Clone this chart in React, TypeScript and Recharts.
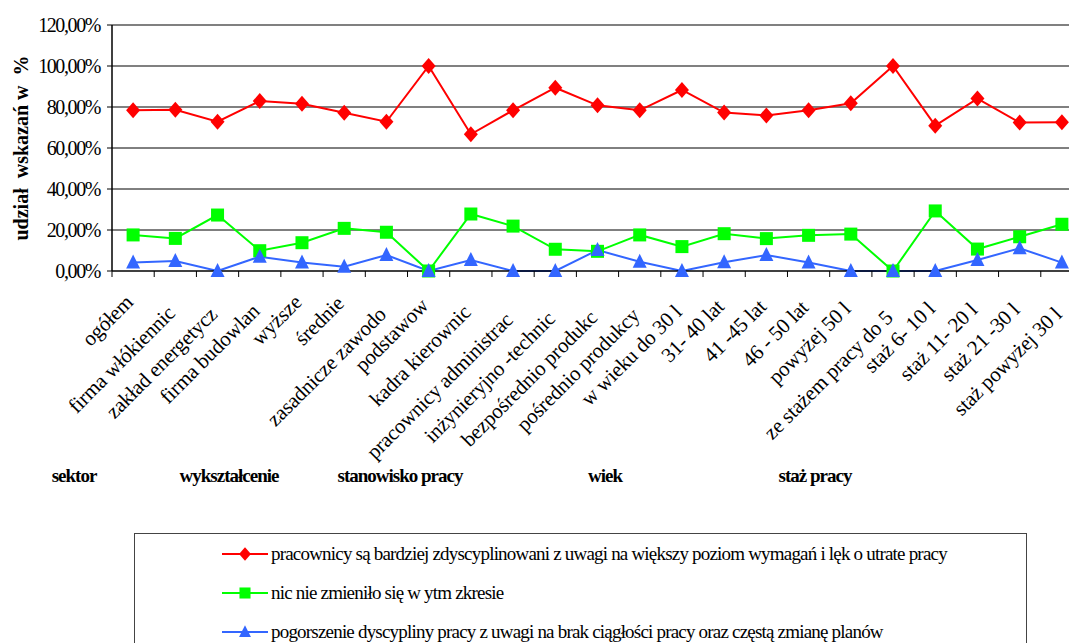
import React from 'react';
import { LineChart, Line, XAxis, YAxis, ReferenceLine, Legend } from 'recharts';

const categories = [
  'ogółem',
  'firma włókiennic',
  'zakład energetycz',
  'firma budowlan',
  'wyższe',
  'średnie',
  'zasadnicze zawodo',
  'podstawow',
  'kadra kierownic',
  'pracownicy administrac',
  'inżynieryjno -technic',
  'bezpośrednio produkc',
  'pośrednio produkcy',
  'w wieku do 30 l',
  '31- 40 lat',
  '41 -45 lat',
  '46 - 50 lat',
  'powyżej 50 l',
  'ze stażem pracy do 5',
  'staż 6- 10 l',
  'staż 11- 20 l',
  'staż 21 -30 l',
  'staż powyżej 30 l',
];

const seriesNames = [
  'pracownicy są bardziej zdyscyplinowani z uwagi na większy poziom wymagań i lęk o utrate pracy',
  'nic nie zmieniło się w ytm zkresie',
  'pogorszenie dyscypliny pracy z uwagi na brak ciągłości pracy oraz częstą zmianę planów',
];

const zdyscyplinowani = [78.4, 78.7, 72.8, 82.9, 81.6, 77.2, 72.8, 100, 66.7, 78.4, 89.4, 80.8, 78.4, 88.3, 77.3, 75.9, 78.4, 81.8, 100, 70.9, 84.1, 72.4, 72.6];
const bezZmian = [17.6, 15.9, 27.3, 9.9, 13.8, 20.8, 18.9, 0, 27.8, 21.9, 10.6, 9.6, 17.6, 11.9, 18.2, 15.8, 17.4, 18.0, 0, 29.3, 10.7, 16.7, 22.8];
const pogorszenie = [4.2, 4.9, 0, 7.0, 4.1, 2.1, 7.8, 0, 5.4, 0, 0, 10.2, 4.5, 0, 4.3, 7.8, 4.1, 0, 0, 0, 5.4, 11.1, 4.1];

const yTicks = [0, 20, 40, 60, 80, 100, 120];
const groupNames = ['sektor', 'wykształcenie', 'stanowisko pracy', 'wiek', 'staż pracy'];

// layout
const groupCenters = [74, 229, 400, 605, 815];
const FONT = "'Liberation Serif', 'DejaVu Serif', serif";
const CHART_W = 1100;
const MARGIN = { top: 25, right: 17, left: 0, bottom: 0 };
const Y_W = 112;
const BAND = (CHART_W - MARGIN.right - Y_W - MARGIN.left) / categories.length;

const data = categories.map((name, i) => ({
  name,
  a: zdyscyplinowani[i],
  b: bezZmian[i],
  c: pogorszenie[i],
}));

const Marker = ({ kind, cx, cy, fill, s = 1 }: any) => {
  if (cx == null || cy == null) return null;
  if (kind === 'a')
    return <path d={`M${cx},${cy - 8 * s}L${cx + 7 * s},${cy}L${cx},${cy + 8 * s}L${cx - 7 * s},${cy}Z`} fill={fill} />;
  if (kind === 'b')
    return <rect x={cx - 6.5 * s} y={cy - 6.5 * s} width={13 * s} height={13 * s} fill={fill} />;
  return <path d={`M${cx},${cy - 8 * s}L${cx + 7 * s},${cy + 6 * s}L${cx - 7 * s},${cy + 6 * s}Z`} fill={fill} />;
};

const CategoryTick = (props: any) => {
  const { x, y, payload } = props;
  const left = x - BAND / 2;
  const label = String(payload.value);
  // longer (cut) labels sit a bit lower, as in the original export
  const tx = x + 1;
  const ty = y + 26 + 1.1 * label.length;
  return (
    <g>
      <line x1={left} y1={y} x2={left} y2={y + 6} stroke="#000" strokeWidth={1} />
      <text
        x={tx}
        y={ty}
        transform={`rotate(-45, ${tx}, ${ty})`}
        textAnchor="end"
        fontFamily={FONT}
        fontSize={21}
        letterSpacing={-0.2}
        fill="#000"
      >
        {label}
      </text>
    </g>
  );
};

const YTitle = (props: any) => {
  const vb = props.viewBox || { x: 0, y: 25, height: 246 };
  const cx = vb.x + 28;
  const cy = vb.y + vb.height / 2;
  return (
    <text
      x={cx}
      y={cy}
      transform={`rotate(-90, ${cx}, ${cy})`}
      textAnchor="middle"
      fontFamily={FONT}
      fontWeight="bold"
      fontSize={20}
      fill="#000"
      style={{ whiteSpace: 'pre' }}
    >
      {'udział  wskazań w  %'}
    </text>
  );
};

const colors: Record<string, string> = { a: '#FF0000', b: '#00FF00', c: '#3366FF' };

const LegendBox = (props: any) => {
  const { payload = [] } = props;
  return (
    <div style={{ position: 'relative', width: '100%', height: '100%' }}>
      {payload.map((entry: any, i: number) => {
        const key = entry.dataKey as string;
        return (
          <div
            key={key}
            style={{ position: 'absolute', left: 87, top: 8 + i * 39, height: 24, display: 'flex', alignItems: 'center' }}
          >
            <svg width={46} height={24}>
              <line x1={0} y1={12} x2={46} y2={12} stroke={colors[key]} strokeWidth={2} />
              <Marker kind={key} cx={23} cy={12} fill={colors[key]} s={0.85} />
            </svg>
            <span style={{ fontFamily: FONT, fontSize: 19, letterSpacing: -0.8, marginLeft: 3, color: '#000', whiteSpace: 'nowrap' }}>
              {entry.value}
            </span>
          </div>
        );
      })}
    </div>
  );
};

export default function App() {
  return (
    <div style={{ position: 'absolute', left: 0, top: 0, width: 1069, height: 643, overflow: 'hidden', background: '#fff' }}>
      <LineChart width={CHART_W} height={643} data={data} margin={MARGIN}>
        {yTicks.slice(1).map((v) => (
          <ReferenceLine key={v} y={v} stroke={v >= 80 ? '#808080' : '#000'} strokeWidth={v >= 80 ? 2 : 1} />
        ))}
        <XAxis
          dataKey="name"
          height={372}
          interval={0}
          padding={{ left: BAND / 2, right: BAND / 2 }}
          tickLine={false}
          tickSize={0}
          tickMargin={0}
          axisLine={{ stroke: '#000', strokeWidth: 1.5 }}
          tick={<CategoryTick />}
        />
        <YAxis
          width={Y_W}
          domain={[0, 120]}
          ticks={yTicks}
          interval={0}
          tickSize={5}
          tickMargin={7}
          axisLine={{ stroke: '#000', strokeWidth: 1.5 }}
          tickLine={{ stroke: '#000' }}
          tickFormatter={(v: number) => v.toFixed(2).replace('.', ',') + '%'}
          tick={{ fontFamily: FONT, fontSize: 20, fill: '#000', letterSpacing: -1.4 }}
          label={<YTitle />}
        />
        <Legend
          layout="horizontal"
          verticalAlign="middle"
          align="center"
          itemSorter="dataKey"
          content={<LegendBox />}
          wrapperStyle={{
            position: 'absolute',
            left: 134,
            top: 533,
            width: 893,
            height: 130,
            border: '1px solid #444',
            background: '#fff',
            boxSizing: 'border-box',
          }}
        />
        <Line
          dataKey="a"
          name={seriesNames[0]}
          stroke={colors.a}
          strokeWidth={2}
          isAnimationActive={false}
          dot={(p: any) => <Marker key={`a${p.index}`} kind="a" cx={p.cx} cy={p.cy} fill={colors.a} />}
          legendType="line"
        />
        <Line
          dataKey="b"
          name={seriesNames[1]}
          stroke={colors.b}
          strokeWidth={2}
          isAnimationActive={false}
          dot={(p: any) => <Marker key={`b${p.index}`} kind="b" cx={p.cx} cy={p.cy} fill={colors.b} />}
          legendType="line"
        />
        <Line
          dataKey="c"
          name={seriesNames[2]}
          stroke={colors.c}
          strokeWidth={2}
          isAnimationActive={false}
          dot={(p: any) => <Marker key={`c${p.index}`} kind="c" cx={p.cx} cy={p.cy} fill={colors.c} />}
          legendType="line"
        />
      </LineChart>
      <svg width={1069} height={643} style={{ position: 'absolute', left: 0, top: 0, pointerEvents: 'none' }}>
        {groupNames.map((g, i) => (
          <text
            key={g}
            x={groupCenters[i]}
            y={482}
            textAnchor="middle"
            fontFamily={FONT}
            fontWeight="bold"
            fontSize={19}
            letterSpacing={-1}
            fill="#000"
          >
            {g}
          </text>
        ))}
      </svg>
    </div>
  );
}
